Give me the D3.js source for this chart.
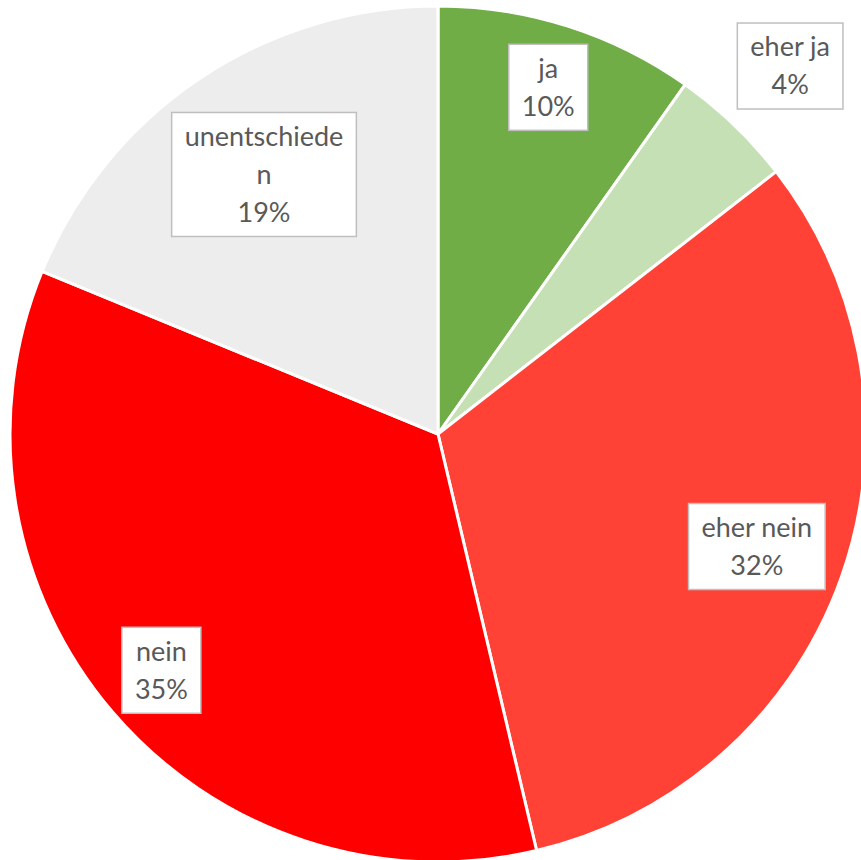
<!DOCTYPE html>
<html>
<head>
<meta charset="utf-8">
<script src="https://cdn.jsdelivr.net/npm/d3@7"></script>
<style>
  html, body { margin: 0; padding: 0; background: #fff; overflow: hidden; }
</style>
</head>
<body>
<svg id="chart" width="861" height="860"></svg>
<script>
// answers, clockwise from 12 o'clock
var categories = ["ja", "eher ja", "eher nein", "nein", "unentschieden"];
var values = [9.8, 4.7, 31.8, 34.9, 18.8];
var pctLabels = ["10%", "4%", "32%", "35%", "19%"];
var labelLines = [["ja"], ["eher ja"], ["eher nein"], ["nein"], ["unentschiede", "n"]];

var colors = ["#70ad47", "#c5e0b4", "#ff4136", "#ff0000", "#ededed"];
// where the label boxes sit, as a fraction of the radius
var labelR = [0.85, 1.19, 0.79, 0.85, 0.73];

var cx = 438, cy = 434, radius = 428;

var svg = d3.select("#chart");
var g = svg.append("g").attr("transform", "translate(" + cx + "," + cy + ")");

var pie = d3.pie().sort(null).value(function(d) { return d; });
var arcs = pie(values);

var arc = d3.arc().innerRadius(0).outerRadius(radius);

g.selectAll("path.slice")
  .data(arcs)
  .enter().append("path")
  .attr("class", "slice")
  .attr("d", arc)
  .attr("fill", function(d, i) { return colors[i]; })
  .attr("stroke", "#fff")
  .attr("stroke-width", 3)
  .attr("stroke-linejoin", "round");

var lineH = 38;
var fontSize = 27;

arcs.forEach(function(d, i) {
  var la = d3.arc().innerRadius(radius * labelR[i]).outerRadius(radius * labelR[i]);
  var c = la.centroid(d);
  var lines = labelLines[i].concat([pctLabels[i]]);

  var lg = g.append("g").attr("transform", "translate(" + c[0] + "," + c[1] + ")");
  var box = lg.append("rect")
    .attr("fill", "#fff")
    .attr("stroke", "#bfbfbf")
    .attr("stroke-width", 1.5);

  var txt = lg.append("text")
    .attr("text-anchor", "middle")
    .style("font-family", "Lato, 'Open Sans', sans-serif")
    .style("font-size", fontSize + "px")
    .attr("fill", "#595959");

  var top = -lines.length * lineH / 2;
  lines.forEach(function(s, k) {
    txt.append("tspan")
      .attr("x", 0)
      .attr("y", top + lineH * k + lineH / 2)
      .attr("dy", "0.35em")
      .text(s);
  });

  var w = txt.node().getBBox().width + 26;
  var h = lines.length * lineH + 10;
  box.attr("x", -w / 2).attr("y", -h / 2).attr("width", w).attr("height", h);
});
</script>
</body>
</html>
